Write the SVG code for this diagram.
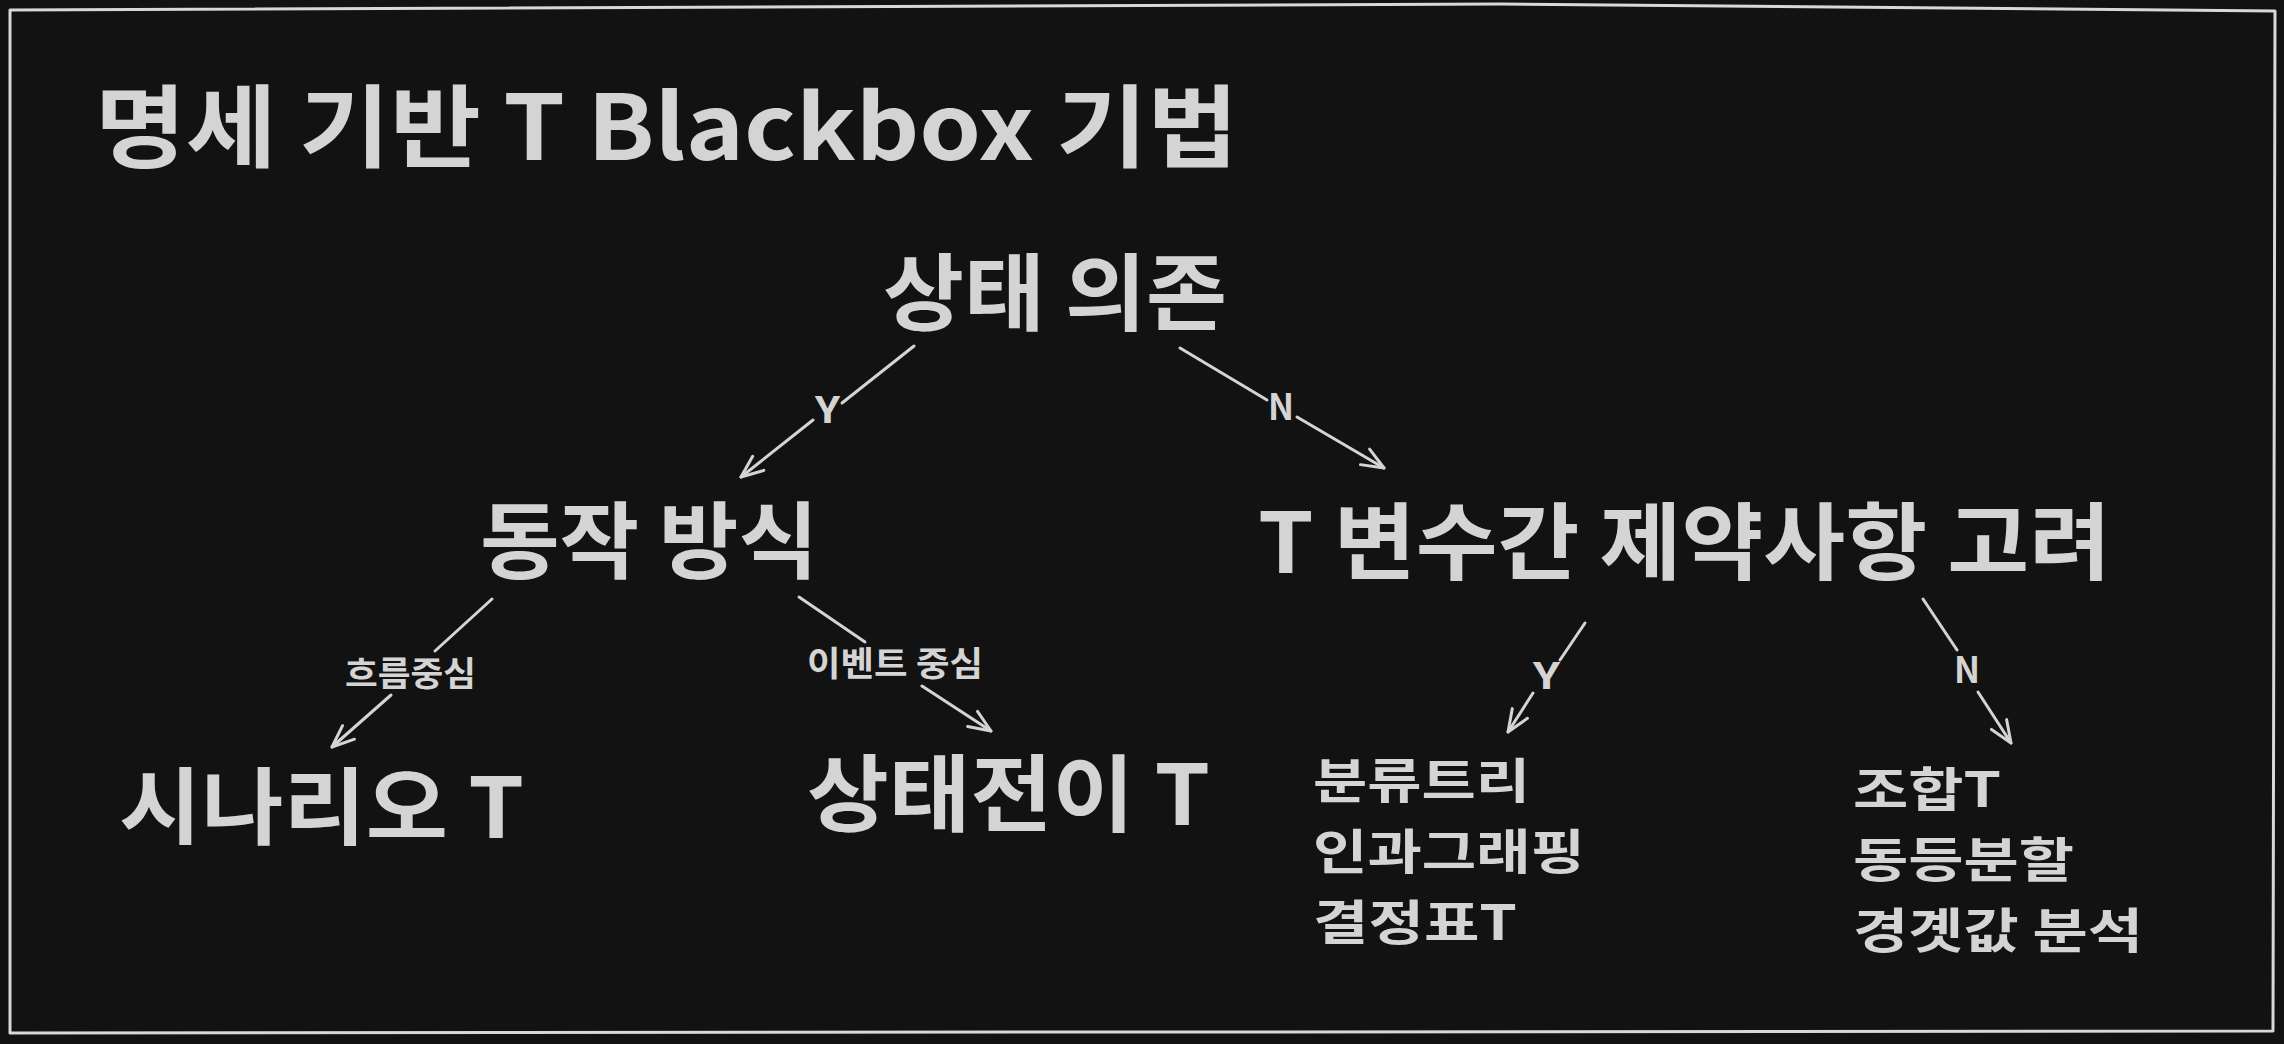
<svg xmlns="http://www.w3.org/2000/svg" width="2284" height="1044" viewBox="0 0 2284 1044">
  <style>
    .t { font-family: "Noto Sans CJK KR", "Noto Sans", sans-serif; font-weight: 700; fill: #d4d4d4; }
    .big { font-size: 84px; }
    .title { font-size: 90px; }
    .item { font-size: 48px; }
    .lbl { font-size: 34px; }
    .yn { font-size: 36px; }
    .edge { fill: none; stroke: #d4d4d4; stroke-width: 3; stroke-linecap: round; }
    .frame { fill: none; stroke: #d8d8d8; stroke-width: 3; stroke-linejoin: round; }
  </style>
  <defs>
    <marker id="arrow" markerUnits="userSpaceOnUse" markerWidth="40" markerHeight="40" viewBox="-30 -20 40 40" refX="0" refY="0" orient="auto" overflow="visible">
      <path d="M -22 -9 L 0 0 L -22 9" fill="none" stroke="#d4d4d4" stroke-width="3" stroke-linecap="round" stroke-linejoin="round"/>
    </marker>
  </defs>
  <rect x="0" y="0" width="2284" height="1044" fill="#121212"/>
  <path class="frame" d="M 10 10 L 1500 4 L 2275 11 L 2273 1031 L 10 1033 Z"/>

  <g id="title">
    <text class="t title" x="95" y="160" textLength="1143" lengthAdjust="spacingAndGlyphs">명세 기반 T Blackbox 기법</text>
  </g>

  <g id="node-state">
    <text class="t big" x="883" y="324" textLength="344" lengthAdjust="spacingAndGlyphs">상태 의존</text>
  </g>
  <g id="node-behavior">
    <text class="t big" x="480" y="572" textLength="338" lengthAdjust="spacingAndGlyphs">동작 방식</text>
  </g>
  <g id="node-constraint">
    <text class="t big" x="1258" y="573" textLength="853" lengthAdjust="spacingAndGlyphs">T 변수간 제약사항 고려</text>
  </g>
  <g id="node-scenario">
    <text class="t big" x="119" y="838" textLength="405" lengthAdjust="spacingAndGlyphs">시나리오 T</text>
  </g>
  <g id="node-transition">
    <text class="t big" x="807" y="825" textLength="403" lengthAdjust="spacingAndGlyphs">상태전이 T</text>
  </g>
  <g id="node-y-list">
    <text class="t item"><tspan x="1313" y="798" textLength="217" lengthAdjust="spacingAndGlyphs">분류트리</tspan><tspan x="1313" y="869" textLength="272" lengthAdjust="spacingAndGlyphs">인과그래핑</tspan><tspan x="1313" y="940" textLength="204" lengthAdjust="spacingAndGlyphs">결정표T</tspan></text>
  </g>
  <g id="node-n-list">
    <text class="t item"><tspan x="1853" y="807" textLength="148" lengthAdjust="spacingAndGlyphs">조합T</tspan><tspan x="1853" y="877" textLength="221" lengthAdjust="spacingAndGlyphs">동등분할</tspan><tspan x="1853" y="948" textLength="290" lengthAdjust="spacingAndGlyphs">경곗값 분석</tspan></text>
  </g>

  <g id="connectors">
    <path class="edge" d="M 914 346 L 842 403"/>
    <path class="edge" d="M 813 420 L 741 477" marker-end="url(#arrow)"/>
    <text class="t yn" x="815" y="423" textLength="25" lengthAdjust="spacingAndGlyphs">Y</text>

    <path class="edge" d="M 1180 348 L 1267 400"/>
    <path class="edge" d="M 1297 417 L 1384 468" marker-end="url(#arrow)"/>
    <text class="t yn" x="1268" y="420" textLength="26" lengthAdjust="spacingAndGlyphs">N</text>

    <path class="edge" d="M 492 599 L 435 651"/>
    <path class="edge" d="M 391 695 L 332 747" marker-end="url(#arrow)"/>
    <text class="t lbl" x="345" y="686" textLength="131" lengthAdjust="spacingAndGlyphs">흐름중심</text>

    <path class="edge" d="M 799 597 L 865 642"/>
    <path class="edge" d="M 922 686 L 991 731" marker-end="url(#arrow)"/>
    <text class="t lbl" x="807" y="676" textLength="176" lengthAdjust="spacingAndGlyphs">이벤트 중심</text>

    <path class="edge" d="M 1585 623 L 1560 660"/>
    <path class="edge" d="M 1533 693 L 1508 732" marker-end="url(#arrow)"/>
    <text class="t yn" x="1533" y="689" textLength="27" lengthAdjust="spacingAndGlyphs">Y</text>

    <path class="edge" d="M 1923 599 L 1957 650"/>
    <path class="edge" d="M 1978 692 L 2011 743" marker-end="url(#arrow)"/>
    <text class="t yn" x="1954" y="683" textLength="26" lengthAdjust="spacingAndGlyphs">N</text>
  </g>
</svg>
